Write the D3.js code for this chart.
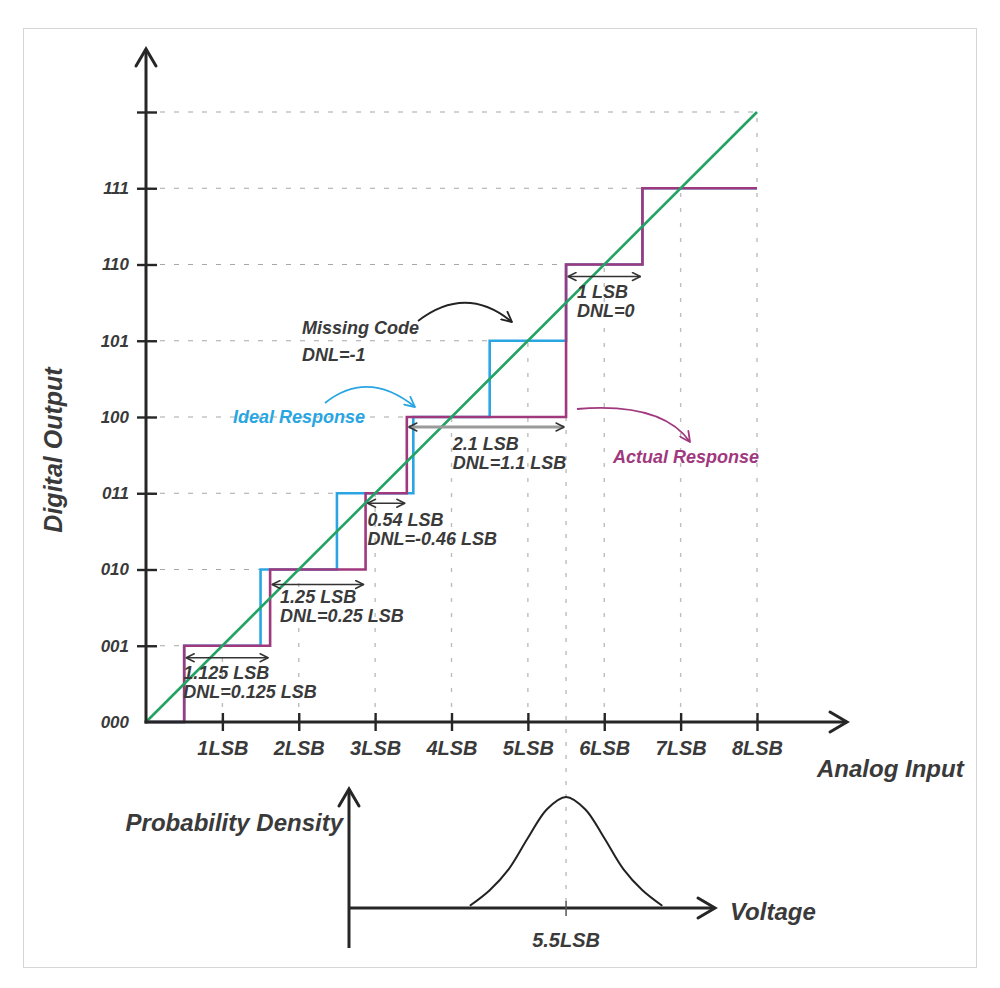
<!DOCTYPE html>
<html>
<head>
<meta charset="utf-8">
<script src="https://cdn.jsdelivr.net/npm/d3@7"></script>
<style>
  html, body { margin: 0; padding: 0; background: #fff; }
  svg { display: block; }
  text { font-family: "Liberation Sans", Arial, sans-serif; font-weight: bold; font-style: italic; }
</style>
</head>
<body>
<svg id="chart" width="1000" height="988"></svg>
<script>
// ---------------- data ----------------
const codeLabels = ["000", "001", "010", "011", "100", "101", "110", "111", ""];
const xTickValues = [1, 2, 3, 4, 5, 6, 7, 8];
const xTickLabels = ["1LSB", "2LSB", "3LSB", "4LSB", "5LSB", "6LSB", "7LSB", "8LSB"];

// ideal staircase (transition points in LSB, output code after transition)
const idealX    = [0, 0.5, 1.5, 2.5, 3.5, 4.5, 5.5, 6.5, 8];
const idealCode = [0, 1,   2,   3,   4,   5,   6,   7,   7];

// actual staircase (code 101 missing)
const actualX    = [0, 0.5, 1.625, 2.875, 3.415, 5.5, 6.5, 8];
const actualCode = [0, 1,   2,     3,     4,     6,   7,   7];

// ideal transfer line
const lineX = [0, 8];
const lineY = [0, 8];

// DNL annotations
const annStart = [0.5, 1.625, 2.875, 3.415, 5.5];
const annEnd   = [1.625, 2.875, 3.415, 5.5, 6.5];
const annLevel = [1, 2, 3, 4, 6];
const annLine1 = ["1.125 LSB", "1.25 LSB", "0.54 LSB", "2.1 LSB", "1 LSB"];
const annLine2 = ["DNL=0.125 LSB", "DNL=0.25 LSB", "DNL=-0.46 LSB", "DNL=1.1 LSB", "DNL=0"];

// probability density of the transition
const pdfX = [4.24, 4.5, 4.75, 5.0, 5.25, 5.5, 5.75, 6.0, 6.25, 6.5, 6.76];
const pdfY = [0.02, 0.16, 0.35, 0.63, 0.89, 1.0, 0.89, 0.63, 0.35, 0.16, 0.02];
const pdfMark = 5.5;
const pdfMarkLabel = "5.5LSB";

// ---------------- layout ----------------
const svg = d3.select("#chart");
const x = d3.scaleLinear().domain([0, 8]).range([146, 757]);
const y = d3.scaleLinear().domain([0, 8]).range([722, 112]);
const yPdf = d3.scaleLinear().domain([0, 1]).range([908, 797]);

const PURPLE = "#a0387e", BLUE = "#29a6e2", GREEN = "#22a363", AXIS = "#262626", TXT = "#3a3a3a";

// frame
svg.append("rect").attr("x", 23.5).attr("y", 28.5).attr("width", 953).attr("height", 939)
  .attr("fill", "none").attr("stroke", "#d6d6d6").attr("stroke-width", 1);

// markers
const defs = svg.append("defs");
function marker(id, color, len, half, sw) {
  defs.append("marker").attr("id", id)
    .attr("viewBox", `0 0 ${len + 2} ${2 * half + 2}`)
    .attr("refX", len + 1).attr("refY", half + 1)
    .attr("markerWidth", len + 2).attr("markerHeight", 2 * half + 2)
    .attr("markerUnits", "userSpaceOnUse")
    .attr("orient", "auto-start-reverse")
    .append("path")
    .attr("d", `M1,1 L${len + 1},${half + 1} L1,${2 * half + 1}`)
    .attr("fill", "none").attr("stroke", color).attr("stroke-width", sw)
    .attr("stroke-linecap", "round").attr("stroke-linejoin", "round");
}
marker("mDark", "#333", 8, 4, 1.5);
marker("mDarkCurve", "#222", 10, 5, 1.8);
marker("mBlue", BLUE, 10, 5, 1.8);
marker("mPurple", PURPLE, 10, 5, 1.8);

// ---------------- grid ----------------
const grid = svg.append("g");
// horizontal dashed: from axis to ideal transition into that code
d3.range(1, 9).forEach(k => {
  const xe = k < 8 ? k - 0.5 : 8;
  grid.append("line").attr("x1", x(0)).attr("x2", x(xe)).attr("y1", y(k)).attr("y2", y(k))
    .attr("stroke", "#a8a8a8").attr("stroke-width", 1.2).attr("stroke-dasharray", "5,9");
});
// vertical dotted
xTickValues.forEach(k => {
  grid.append("line").attr("x1", x(k)).attr("x2", x(k)).attr("y1", y(0)).attr("y2", y(k))
    .attr("stroke", "#bdbdbd").attr("stroke-width", 1.4).attr("stroke-dasharray", "4,11");
});
grid.append("line").attr("x1", x(pdfMark)).attr("x2", x(pdfMark)).attr("y1", y(4)).attr("y2", yPdf(0))
  .attr("stroke", "#bdbdbd").attr("stroke-width", 1.4).attr("stroke-dasharray", "4,9");

// ---------------- staircases ----------------
const stepLine = d3.line().curve(d3.curveStepAfter).x(d => x(d[0])).y(d => y(d[1]));
svg.append("path").datum(d3.zip(idealX, idealCode)).attr("d", stepLine)
  .attr("fill", "none").attr("stroke", BLUE).attr("stroke-width", 2.6);
svg.append("path").datum(d3.zip(actualX, actualCode)).attr("d", stepLine)
  .attr("fill", "none").attr("stroke", PURPLE).attr("stroke-width", 2.6);
svg.append("path").datum(d3.zip(lineX, lineY))
  .attr("d", d3.line().x(d => x(d[0])).y(d => y(d[1])))
  .attr("fill", "none").attr("stroke", GREEN).attr("stroke-width", 2.6);

// ---------------- main axes ----------------
const yAxis = svg.append("g").attr("transform", `translate(${x(0)},0)`)
  .call(d3.axisLeft(y).tickValues(d3.range(0, 9)).tickFormat(i => codeLabels[i]).tickSize(9).tickPadding(8));
yAxis.select(".domain").remove();
yAxis.selectAll(".tick line").attr("x1", -9).attr("x2", 11).attr("stroke", AXIS).attr("stroke-width", 2.4)
  .filter(d => d === 0).remove();
yAxis.selectAll(".tick text").attr("fill", TXT).style("font-size", "17px")
  .style("font-family", "'Liberation Sans', Arial, sans-serif");

const xAxis = svg.append("g").attr("transform", `translate(0,${y(0)})`)
  .call(d3.axisBottom(x).tickValues(xTickValues).tickFormat((d, i) => xTickLabels[i]).tickSize(9).tickPadding(10));
xAxis.select(".domain").remove();
xAxis.selectAll(".tick line").attr("y1", -9).attr("y2", 9).attr("stroke", AXIS).attr("stroke-width", 2.4);
xAxis.selectAll(".tick text").attr("fill", TXT).attr("y", 19).style("font-size", "20px")
  .style("font-family", "'Liberation Sans', Arial, sans-serif");

function arrowAxis(x1, y1, x2, y2, w) {
  svg.append("line").attr("x1", x1).attr("y1", y1).attr("x2", x2).attr("y2", y2)
    .attr("stroke", AXIS).attr("stroke-width", w);
  const ang = Math.atan2(y2 - y1, x2 - x1);
  const L = 17, H = 10;
  const bx = x2 - L * Math.cos(ang), by = y2 - L * Math.sin(ang);
  const px = -Math.sin(ang) * H, py = Math.cos(ang) * H;
  svg.append("path").attr("d", `M${bx + px},${by + py} L${x2},${y2} L${bx - px},${by - py}`)
    .attr("fill", "none").attr("stroke", AXIS).attr("stroke-width", w)
    .attr("stroke-linejoin", "miter").attr("stroke-linecap", "round");
}
arrowAxis(x(0), y(0) + 1.5, x(0), 49, 3);
arrowAxis(x(0) - 1.5, y(0), 847, y(0), 3);

// axis titles
svg.append("text").attr("transform", "translate(62,450) rotate(-90)").attr("text-anchor", "middle")
  .attr("fill", TXT).style("font-size", "25px").text("Digital Output");
svg.append("text").attr("x", 817).attr("y", 777).attr("fill", TXT).style("font-size", "24px").text("Analog Input");

// ---------------- DNL annotations ----------------
const annDx = [-1, 10, 2, 46, 11];
const annDy = [12, 15, 10, 10, 12];
annStart.forEach((s, i) => {
  const yy = y(annLevel[i]) + annDy[i];
  const big = i === 3;
  svg.append("line").attr("x1", x(s) + 2).attr("x2", x(annEnd[i]) - 2).attr("y1", yy).attr("y2", yy)
    .attr("stroke", big ? "#9a9a9a" : "#333").attr("stroke-width", big ? 3 : 1.5)
    .attr("marker-start", "url(#mDark)").attr("marker-end", "url(#mDark)");
  const tx = x(s) + annDx[i];
  svg.append("text").attr("x", tx).attr("y", y(annLevel[i]) + 33).attr("fill", TXT)
    .style("font-size", "18px").text(annLine1[i]);
  svg.append("text").attr("x", tx).attr("y", y(annLevel[i]) + 52).attr("fill", TXT)
    .style("font-size", "18px").text(annLine2[i]);
});

// Missing code
svg.append("text").attr("x", 302).attr("y", 334).attr("fill", TXT).style("font-size", "18px").text("Missing Code");
svg.append("text").attr("x", 302).attr("y", 361).attr("fill", TXT).style("font-size", "18px").text("DNL=-1");
svg.append("path").attr("d", "M418,321 Q466,284 512,322").attr("fill", "none")
  .attr("stroke", "#222").attr("stroke-width", 1.8).attr("marker-end", "url(#mDarkCurve)");

// Ideal response
svg.append("text").attr("x", 233).attr("y", 423).attr("fill", BLUE).style("font-size", "18px").text("Ideal Response");
svg.append("path").attr("d", "M325,403 Q368,369 415,407").attr("fill", "none")
  .attr("stroke", BLUE).attr("stroke-width", 1.8).attr("marker-end", "url(#mBlue)");

// Actual response
svg.append("text").attr("x", 613).attr("y", 463).attr("fill", PURPLE).style("font-size", "18px").text("Actual Response");
svg.append("path").attr("d", "M577,409 Q662,402 690,442").attr("fill", "none")
  .attr("stroke", PURPLE).attr("stroke-width", 1.8).attr("marker-end", "url(#mPurple)");

// ---------------- probability density chart ----------------
svg.append("path").datum(d3.zip(pdfX, pdfY))
  .attr("d", d3.line().curve(d3.curveCatmullRom).x(d => x(d[0])).y(d => yPdf(d[1])))
  .attr("fill", "none").attr("stroke", "#222").attr("stroke-width", 2);
arrowAxis(349, 948, 349, 789, 3);
arrowAxis(349, yPdf(0), 715, yPdf(0), 3);
svg.append("line").attr("x1", x(pdfMark)).attr("x2", x(pdfMark)).attr("y1", yPdf(0) - 7).attr("y2", yPdf(0) + 8)
  .attr("stroke", "#555").attr("stroke-width", 1.5);
svg.append("text").attr("x", x(pdfMark)).attr("y", 947).attr("text-anchor", "middle").attr("fill", TXT)
  .style("font-size", "20px").text(pdfMarkLabel);
svg.append("text").attr("x", 343).attr("y", 831).attr("text-anchor", "end").attr("fill", TXT)
  .style("font-size", "24px").text("Probability Density");
svg.append("text").attr("x", 730).attr("y", 920).attr("fill", TXT).style("font-size", "24px").text("Voltage");
</script>
</body>
</html>
